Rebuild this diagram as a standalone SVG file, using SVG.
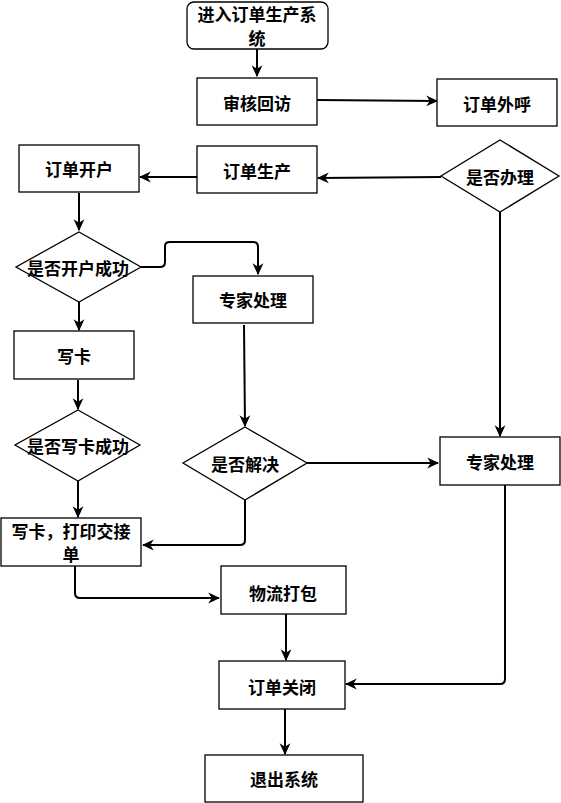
<svg xmlns="http://www.w3.org/2000/svg" width="561" height="803" viewBox="0 0 561 803">
<style>
.box{fill:#fff;stroke:#000;stroke-width:1.3}
.t{font-family:"Noto Sans CJK SC","Noto Sans",sans-serif;font-weight:bold;font-size:17px;fill:#000;text-anchor:middle;dominant-baseline:central}
.c{fill:none;stroke:#000;stroke-width:2;marker-end:url(#arr)}
</style>
<defs>
<marker id="arr" viewBox="0 0 10 10" refX="9" refY="5" markerWidth="12" markerHeight="12" markerUnits="userSpaceOnUse" orient="auto">
<path d="M0,0.5 L10,5 L0,9.5 L3,5 Z" fill="#000"/>
</marker>
</defs>
<rect width="561" height="803" fill="#fff"/>
<g id="connectors">
<path class="c" d="M257,49 L257,76"/>
<path class="c" d="M317,100 L437,101"/>
<path class="c" d="M441,177 L318,178"/>
<path class="c" d="M197,177 L140,177"/>
<path class="c" d="M79,193 L79,230"/>
<path class="c" d="M141,267 L160,267 Q165,267 165,262 L165,246 Q165,242 170,242 L253,242 Q258,242 258,247 L258,274"/>
<path class="c" d="M79,302 L79,330"/>
<path class="c" d="M78,380 L78,409"/>
<path class="c" d="M78,481 L78,517"/>
<path class="c" d="M244,325 L245,426"/>
<path class="c" d="M307,463 L438,463"/>
<path class="c" d="M500,212 L500,436"/>
<path class="c" d="M245,500 L245,540 Q245,545 240,545 L143,545"/>
<path class="c" d="M75,566 L75,593 Q75,598 80,598 L219,598"/>
<path class="c" d="M286,614 L286,660"/>
<path class="c" d="M505,485 L505,679 Q505,684 500,684 L346,684"/>
<path class="c" d="M285,709 L285,754"/>
</g>
<g id="n1"><rect class="box" x="187" y="2" width="141" height="47" rx="7"/><text class="t" x="257" y="13">进入订单生产系</text><text class="t" x="257" y="37">统</text></g>
<g id="n2"><rect class="box" x="197" y="78" width="120" height="47"/><text class="t" x="257" y="102">审核回访</text></g>
<g id="n3"><rect class="box" x="437" y="79" width="120" height="47"/><text class="t" x="497" y="103">订单外呼</text></g>
<g id="n4"><polygon class="box" points="500,140 559,176 500,212 441,176"/><text class="t" x="500" y="176">是否办理</text></g>
<g id="n5"><rect class="box" x="197" y="146" width="120" height="47"/><text class="t" x="257" y="170">订单生产</text></g>
<g id="n6"><rect class="box" x="19" y="145" width="120" height="47"/><text class="t" x="79" y="168">订单开户</text></g>
<g id="n7"><polygon class="box" points="79,232 141,267 79,302 16,267"/><text class="t" x="78" y="267">是否开户成功</text></g>
<g id="n8"><rect class="box" x="193" y="276" width="120" height="47"/><text class="t" x="253" y="299">专家处理</text></g>
<g id="n9"><rect class="box" x="14" y="331" width="120" height="48"/><text class="t" x="74" y="355">写卡</text></g>
<g id="n10"><polygon class="box" points="78,410 140,445 78,481 15,445"/><text class="t" x="78" y="445">是否写卡成功</text></g>
<g id="n11"><polygon class="box" points="245,427 307,463 245,500 183,463"/><text class="t" x="245" y="463">是否解决</text></g>
<g id="n12"><rect class="box" x="440" y="437" width="120" height="48"/><text class="t" x="500" y="461">专家处理</text></g>
<g id="n13"><rect class="box" x="1" y="518" width="140" height="48"/><text class="t" x="71" y="530">写卡，打印交接</text><text class="t" x="71" y="553">单</text></g>
<g id="n14"><rect class="box" x="221" y="566" width="125" height="48"/><text class="t" x="283" y="592">物流打包</text></g>
<g id="n15"><rect class="box" x="219" y="661" width="126" height="48"/><text class="t" x="282" y="686">订单关闭</text></g>
<g id="n16"><rect class="box" x="205" y="755" width="158" height="47"/><text class="t" x="284" y="778">退出系统</text></g>
</svg>
